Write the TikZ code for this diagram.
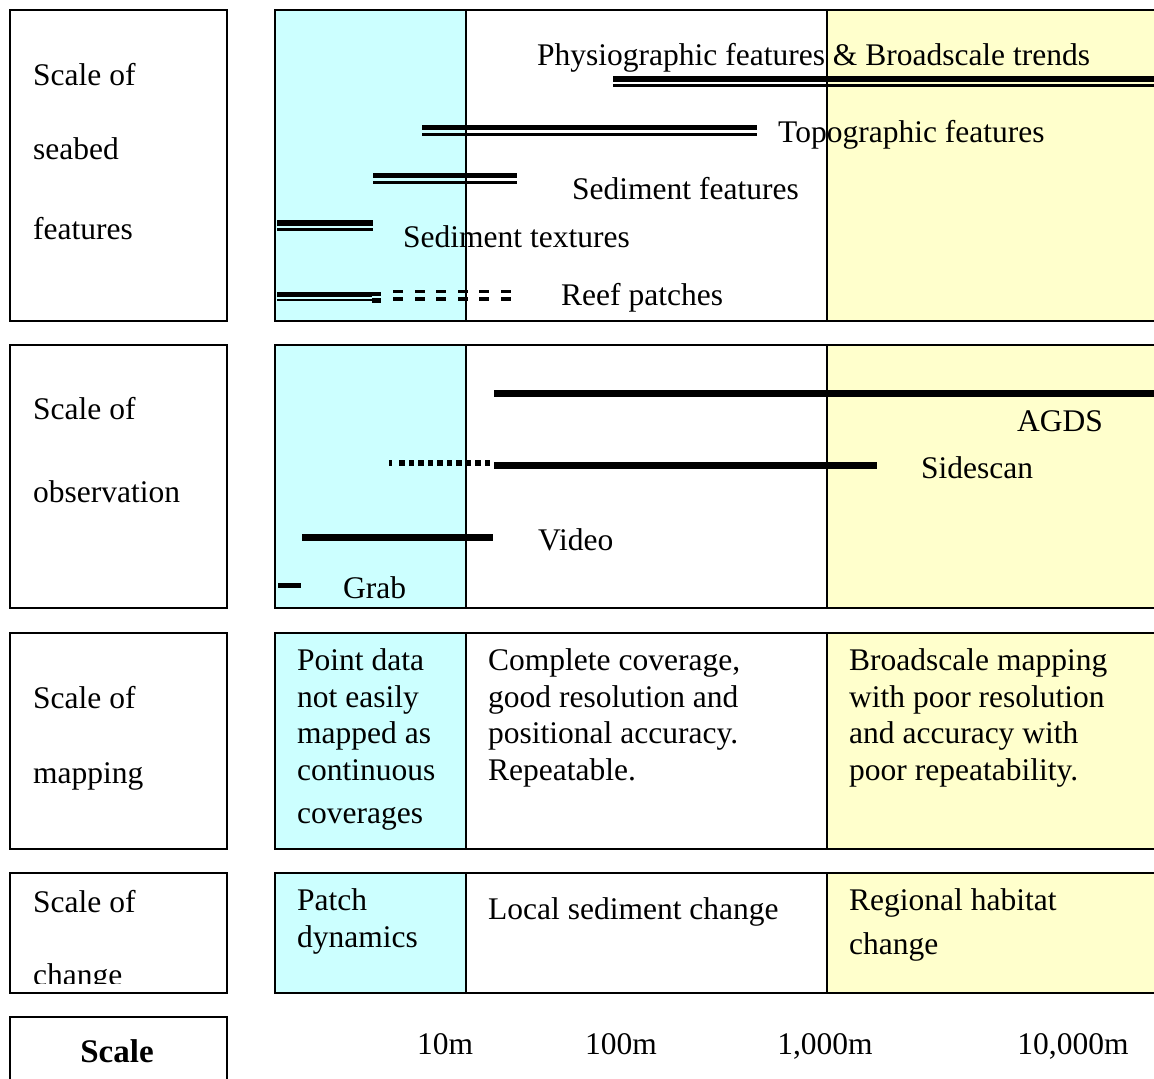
\documentclass[tikz,border=0pt]{standalone}
\usepackage{fontspec}
\setmainfont{Liberation Serif}
\usetikzlibrary{positioning}
\definecolor{shallowcol}{HTML}{CCFFFF}
\definecolor{broadcol}{HTML}{FFFFCC}
\newcommand{\featbar}[3]{\fill (#1,#3) rectangle (#2,#3+5.5); \fill (#1,#3+8) rectangle (#2,#3+11);}

\begin{document}
\begin{tikzpicture}[x=1pt,y=-1pt,
    every node/.style={inner sep=0pt,font=\fontsize{31.5}{36.5}\selectfont},
    lab/.style={anchor=base west,align=left},
    tick/.style={anchor=base},
    frame/.style={line width=2.6pt}]
    \useasboundingbox (0,0) rectangle (1154,1079);
    \clip (0,0) rectangle (1154,1079);
    \fill[white] (0,0) rectangle (1154,1079);
    \foreach \ya/\yb in {10/321,345/608,633/849,873/993} {
        \fill[shallowcol] (275,\ya) rectangle (466,\yb);
        \fill[broadcol] (827,\ya) rectangle (1170,\yb);
        \draw[frame] (466,\ya) -- (466,\yb);
        \draw[frame] (827,\ya) -- (827,\yb);
        \draw[frame] (275,\ya) rectangle (1170,\yb);
        \draw[frame] (10,\ya) rectangle (227,\yb);
    }
    \draw[frame] (10,1017) rectangle (227,1100);

    \featbar{613}{1170}{76}
    \featbar{422}{757}{124.5}
    \featbar{373}{517}{172.5}
    \featbar{277}{373}{220}
    \fill (277,291.5) rectangle (372,297);
    \fill (277,298.5) rectangle (372,301);
    \fill (372,291.5) rectangle (381,296);
    \fill (372,297.5) rectangle (381,302.5);
    \foreach \x in {393,414.5,...,501} {
        \fill (\x,289.5) rectangle (\x+10,293);
        \fill (\x,297) rectangle (\x+10,300.5);
    }

    \fill (494,390) rectangle (1170,397);
    \fill (494,462) rectangle (877,469);
    \fill (389,460) rectangle (392,466);
    \foreach \x in {399,408.5,...,485} {
        \fill (\x,460) rectangle (\x+5.5,466);
    }
    \fill (302,534) rectangle (493,541);
    \fill (278,583) rectangle (301,588);

    \node[lab] (physio) at (537,65) {Physiographic features \& Broadscale trends};
    \node[lab] (topo) at (778,142) {Topographic features};
    \node[lab] (sedfeat) at (572,199) {Sediment features};
    \node[lab] (sedtex) at (403,247) {Sediment textures};
    \node[lab] (reef) at (561,305) {Reef patches};

    \node[lab] (agds) at (1017,431) {AGDS};
    \node[lab] (sidescan) at (921,478) {Sidescan};
    \node[lab] (video) at (538,550) {Video};
    \node[lab] (grab) at (343,598) {Grab};

    \node[lab] (seabed) at (33,239) {Scale of\\[38pt]seabed\\[43pt]features};
    \node[lab] (observ) at (33,502) {Scale of\\[46pt]observation};
    \node[lab] (mapping) at (33,783) {Scale of\\[38.5pt]mapping};
    \begin{scope}
        \clip (10,873) rectangle (227,983);
        \node[lab] (change) at (33,985) {Scale of\\[36.5pt]change};
    \end{scope}
    \node[tick,font=\fontsize{33}{38}\bfseries] (scale) at (117,1062) {Scale};

    \node[lab] (pointdata) at (297,823) {Point data\\not easily\\mapped as\\continuous\\[6.5pt]coverages};
    \node[lab] (complete) at (488,780) {Complete coverage,\\good resolution and\\positional accuracy.\\Repeatable.};
    \node[lab] (broadmap) at (849,780) {Broadscale mapping\\with poor resolution\\and accuracy with\\poor repeatability.};

    \node[lab] (patch) at (297,947) {Patch\\dynamics};
    \node[lab] (local) at (488,919) {Local sediment change};
    \node[lab] (regional) at (849,954) {Regional habitat\\[7pt]change};

    \node[tick] (ten) at (445,1054) {10m};
    \node[tick] (hundred) at (621,1054) {100m};
    \node[tick] (thousand) at (825,1054) {1,000m};
    \node[tick] (tenthousand) at (1073,1054) {10,000m};
\end{tikzpicture}
\end{document}
